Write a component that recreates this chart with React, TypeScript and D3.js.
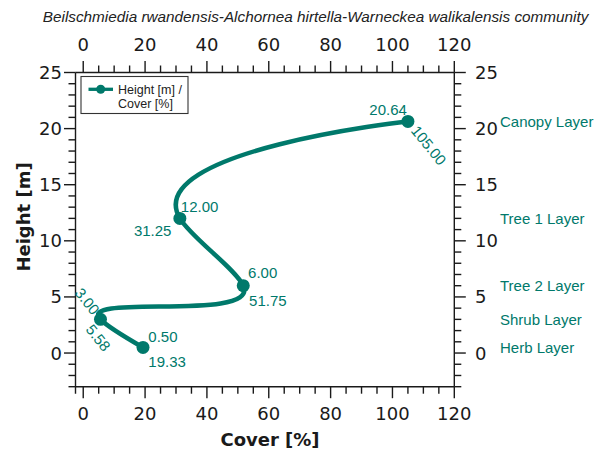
import React from 'react';
import * as d3 from 'd3';

// ---- data ----
const layerNames = ['Herb Layer', 'Shrub Layer', 'Tree 2 Layer', 'Tree 1 Layer', 'Canopy Layer'];
const heights = [0.5, 3.0, 6.0, 12.0, 20.64];
const covers = [19.33, 5.58, 51.75, 31.25, 105.0];
const xTickValues = [0, 20, 40, 60, 80, 100, 120];
const yTickValues = [0, 5, 10, 15, 20, 25];
const titleText = 'Beilschmiedia rwandensis-Alchornea hirtella-Warneckea walikalensis community';
const xTitle = 'Cover [%]';
const yTitle = 'Height [m]';
const legendLines = ['Height [m] /', 'Cover [%]'];

// ---- layout ----
const W = 594, H = 452;
const L = 75.5, R = 454.3, T = 72.5, B = 386.7;
const TEAL = '#00796b';
const INK = '#1a1a1a';
const MAJ = 11.5, MIN = 7;
const ROT = 51;

// label placement for each point (annotation layout, not data)
const hLab = [
  { dx: 5.3, dy: -5.7, anchor: 'start', rot: 0 },
  { dx: -8.2, dy: -3.5, anchor: 'end', rot: ROT },
  { dx: 4.8, dy: -7.7, anchor: 'start', rot: 0 },
  { dx: 1, dy: -6.3, anchor: 'start', rot: 0 },
  { dx: -1, dy: -6.5, anchor: 'end', rot: 0 },
];
const cLab = [
  { dx: 5.3, dy: 19.3, anchor: 'start', rot: 0 },
  { dx: -15.5, dy: 10.5, anchor: 'start', rot: ROT },
  { dx: 5.8, dy: 20.3, anchor: 'start', rot: 0 },
  { dx: -8.4, dy: 17.7, anchor: 'end', rot: 0 },
  { dx: 2.3, dy: 9.5, anchor: 'start', rot: ROT },
];

const x = d3.scaleLinear().domain([-2.5, 120]).range([L, R]);
const y = d3.scaleLinear().domain([-3, 25]).range([B, T]);

const xMinor = d3.range(0, 121, 5);
const yMinor = d3.range(-3, 26, 1);

function curvePath(): string {
  const p = d3.path();
  const ctx: any = {
    moveTo: (a: number, b: number) => p.moveTo(x(a), y(b)),
    lineTo: (a: number, b: number) => p.lineTo(x(a), y(b)),
    bezierCurveTo: (a: number, b: number, c: number, d: number, e: number, f: number) =>
      p.bezierCurveTo(x(a), y(b), x(c), y(d), x(e), y(f)),
    closePath: () => p.closePath(),
  };
  const pts: [number, number][] = covers.map((c, i) => [c, heights[i]]);
  d3.line<[number, number]>()
    .x((d) => d[0])
    .y((d) => d[1])
    .curve(d3.curveCatmullRom.alpha(1))
    .context(ctx)(pts);
  return p.toString();
}

export default function App() {
  const tickFont = { fontFamily: 'DejaVu Sans', fontSize: 18, fill: INK };
  const labFont = { fontFamily: 'Liberation Sans, Arial, sans-serif', fontSize: 15, fill: TEAL };
  const sw = 1.4;
  return (
    <svg width={W} height={H} style={{ position: 'absolute', left: 0, top: 0, display: 'block', background: '#fff' }}>
      {/* title */}
      <text x={315.6} y={22} textAnchor="middle" fontFamily="Liberation Sans, Arial, sans-serif" fontStyle="italic" fontSize={15.3} fill="#222">
        {titleText}
      </text>

      {/* spines */}
      <g stroke={INK} strokeWidth={sw} fill="none">
        <line x1={L} y1={T} x2={L} y2={B + MIN} />
        <line x1={R} y1={T} x2={R} y2={B} />
        <line x1={L} y1={T} x2={R} y2={T} />
        <line x1={L} y1={B} x2={R} y2={B} />
        {/* bottom & top ticks */}
        {xMinor.map((v) => {
          const len = v % 20 === 0 ? MAJ : MIN;
          return (
            <g key={'x' + v}>
              <line x1={x(v)} y1={B} x2={x(v)} y2={B + len} />
              <line x1={x(v)} y1={T} x2={x(v)} y2={T - len} />
            </g>
          );
        })}
        {/* left & right ticks */}
        {yMinor.map((v) => {
          const len = v % 5 === 0 ? MAJ : MIN;
          return (
            <g key={'y' + v}>
              <line x1={L} y1={y(v)} x2={L - len} y2={y(v)} />
              <line x1={R} y1={y(v)} x2={R + len} y2={y(v)} />
            </g>
          );
        })}
      </g>

      {/* tick labels */}
      {xTickValues.map((v) => (
        <g key={'xl' + v}>
          <text x={x(v)} y={420} textAnchor="middle" {...tickFont}>{v}</text>
          <text x={x(v)} y={51} textAnchor="middle" {...tickFont}>{v}</text>
        </g>
      ))}
      {yTickValues.map((v) => (
        <g key={'yl' + v}>
          <text x={62} y={y(v)} textAnchor="end" dominantBaseline="central" {...tickFont}>{v}</text>
          <text x={475} y={y(v)} textAnchor="start" dominantBaseline="central" {...tickFont}>{v}</text>
        </g>
      ))}

      {/* axis titles */}
      <text x={270} y={446} textAnchor="middle" fontFamily="DejaVu Sans" fontWeight="bold" fontSize={18} fill={INK}>{xTitle}</text>
      <text transform={`translate(23.5,217) rotate(-90)`} textAnchor="middle" dominantBaseline="central" fontFamily="DejaVu Sans" fontWeight="bold" fontSize={18} fill={INK}>{yTitle}</text>

      {/* curve */}
      <path d={curvePath()} fill="none" stroke={TEAL} strokeWidth={4.5} strokeLinejoin="round" strokeLinecap="round" />
      {covers.map((c, i) => (
        <circle key={'p' + i} cx={x(c)} cy={y(heights[i])} r={6.5} fill={TEAL} />
      ))}

      {/* point labels */}
      {covers.map((c, i) => {
        const px = x(c), py = y(heights[i]);
        const h = hLab[i], cl = cLab[i];
        return (
          <g key={'lab' + i}>
            <text transform={`translate(${px + h.dx},${py + h.dy}) rotate(${h.rot})`} textAnchor={h.anchor as any} {...labFont}>
              {heights[i].toFixed(2)}
            </text>
            <text transform={`translate(${px + cl.dx},${py + cl.dy}) rotate(${cl.rot})`} textAnchor={cl.anchor as any} {...labFont}>
              {c.toFixed(2)}
            </text>
          </g>
        );
      })}

      {/* layer labels */}
      {layerNames.map((n, i) => (
        <text key={n} x={500} y={y(heights[i])} dominantBaseline="central" {...labFont}>{n}</text>
      ))}

      {/* legend */}
      <rect x={81} y={76.5} width={107} height={37} fill="#fff" stroke="#333" strokeWidth={1.1} />
      <line x1={88.5} y1={89.3} x2={113} y2={89.3} stroke={TEAL} strokeWidth={3.3} />
      <circle cx={100.7} cy={89.3} r={4.5} fill={TEAL} />
      {legendLines.map((t, i) => (
        <text key={t} x={118} y={93.8 + i * 14} fontFamily="Liberation Sans, Arial, sans-serif" fontSize={12.5} fill="#222">{t}</text>
      ))}
    </svg>
  );
}
